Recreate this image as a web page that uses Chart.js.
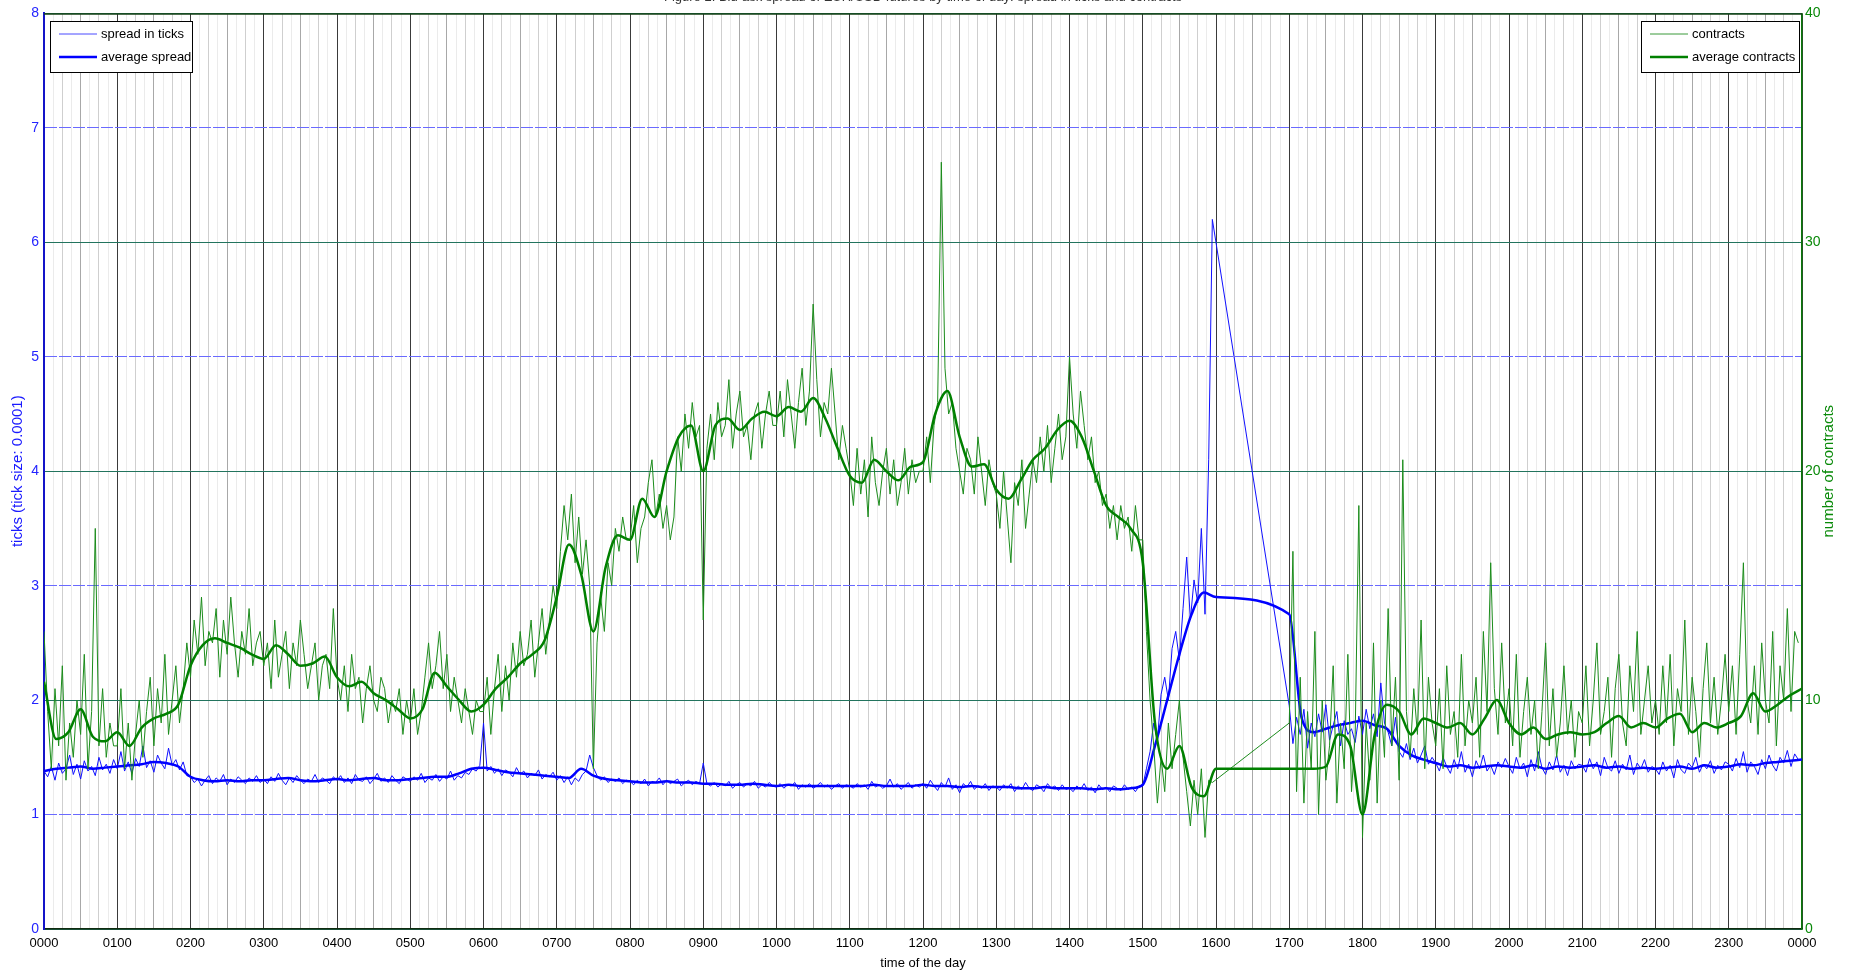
<!DOCTYPE html>
<html><head><meta charset="utf-8">
<script src="https://cdn.jsdelivr.net/npm/chart.js@4.4.1/dist/chart.umd.min.js"></script>
<style>html,body{margin:0;padding:0;background:#fff;overflow:hidden}canvas{display:block}</style>
</head><body>
<canvas id="c" width="1851" height="975"></canvas>
<script>
// ---------------- data ----------------
const titleText = "Figure 2: Bid-ask spread of EUR/USD futures by time of day: spread in ticks and contracts";
const hourTickLabels = ["0000","0100","0200","0300","0400","0500","0600","0700","0800","0900","1000","1100","1200",
  "1300","1400","1500","1600","1700","1800","1900","2000","2100","2200","2300","0000"];
const leftTicks = [0,1,2,3,4,5,6,7,8];
const rightTicks = [0,10,20,30,40];
// hours that hold raw samples (3-minute samples, 20 per hour); no data between 1600 and 1700
const rawHours = [0,1,2,3,4,5,6,7,8,9,10,11,12,13,14,15,17,18,19,20,21,22,23];
const spreadRaw = [
 1.38,1.33,1.42,1.30,1.45,1.36,1.40,1.52,1.35,1.44,1.31,1.47,1.38,1.42,1.34,1.50,1.39,1.44,1.36,1.48,
 1.40,1.55,1.38,1.46,1.36,1.49,1.42,1.60,1.41,1.47,1.37,1.52,1.45,1.40,1.58,1.43,1.48,1.39,1.46,1.34,
 1.33,1.28,1.31,1.25,1.30,1.34,1.27,1.32,1.29,1.35,1.26,1.31,1.28,1.33,1.30,1.27,1.32,1.29,1.34,1.28,
 1.31,1.27,1.33,1.29,1.36,1.30,1.26,1.32,1.28,1.34,1.30,1.27,1.31,1.29,1.35,1.28,1.32,1.30,1.27,1.33,
 1.30,1.34,1.28,1.32,1.27,1.35,1.30,1.29,1.33,1.27,1.31,1.36,1.29,1.32,1.28,1.34,1.30,1.27,1.33,1.31,
 1.29,1.33,1.30,1.36,1.28,1.32,1.30,1.35,1.29,1.33,1.31,1.38,1.30,1.34,1.32,1.37,1.35,1.40,1.38,1.43,
 1.80,1.38,1.42,1.36,1.40,1.34,1.39,1.37,1.33,1.41,1.35,1.38,1.32,1.36,1.34,1.39,1.31,1.35,1.33,1.37,
 1.30,1.34,1.28,1.33,1.26,1.32,1.29,1.35,1.38,1.52,1.41,1.34,1.30,1.33,1.28,1.31,1.29,1.32,1.27,1.30,
 1.29,1.26,1.30,1.27,1.31,1.25,1.29,1.28,1.32,1.26,1.30,1.27,1.29,1.31,1.25,1.28,1.30,1.26,1.29,1.27,
 1.45,1.27,1.25,1.28,1.24,1.27,1.25,1.29,1.23,1.26,1.28,1.24,1.27,1.25,1.29,1.23,1.26,1.24,1.28,1.25,
 1.24,1.27,1.23,1.26,1.25,1.28,1.22,1.26,1.24,1.27,1.23,1.25,1.28,1.24,1.26,1.22,1.25,1.27,1.23,1.26,
 1.25,1.23,1.27,1.24,1.26,1.22,1.29,1.24,1.26,1.23,1.25,1.31,1.24,1.27,1.22,1.25,1.28,1.23,1.26,1.24,
 1.27,1.23,1.30,1.25,1.21,1.28,1.24,1.32,1.22,1.26,1.19,1.27,1.24,1.29,1.22,1.25,1.23,1.27,1.21,1.25,
 1.24,1.21,1.26,1.23,1.27,1.20,1.25,1.22,1.28,1.23,1.21,1.26,1.24,1.20,1.27,1.23,1.25,1.21,1.26,1.22,
 1.23,1.20,1.25,1.22,1.27,1.21,1.24,1.19,1.26,1.22,1.24,1.20,1.25,1.23,1.21,1.26,1.22,1.24,1.20,1.25,
 1.25,1.40,1.55,1.80,1.65,2.05,2.20,2.00,2.45,2.60,2.35,2.80,3.25,2.70,3.05,2.85,3.50,2.75,4.10,6.20,
 1.95,1.62,1.85,1.70,1.92,1.58,1.80,1.68,1.88,1.72,1.96,1.65,1.78,1.90,1.60,1.82,1.70,1.75,1.63,1.86,
 1.70,1.92,1.75,1.88,1.68,2.15,1.80,1.72,1.60,1.85,1.55,1.50,1.62,1.48,1.58,1.45,1.52,1.60,1.44,1.50,
 1.45,1.38,1.50,1.42,1.36,1.48,1.40,1.55,1.37,1.44,1.33,1.47,1.40,1.52,1.38,1.43,1.35,1.46,1.41,1.49,
 1.42,1.36,1.50,1.40,1.45,1.33,1.48,1.38,1.55,1.41,1.35,1.46,1.39,1.52,1.37,1.43,1.34,1.47,1.40,1.44,
 1.43,1.37,1.49,1.40,1.46,1.34,1.50,1.41,1.38,1.47,1.36,1.44,1.39,1.52,1.35,1.45,1.40,1.48,1.37,1.42,
 1.40,1.35,1.46,1.38,1.43,1.32,1.48,1.39,1.36,1.45,1.41,1.50,1.37,1.44,1.40,1.47,1.36,1.43,1.39,1.46,
 1.44,1.38,1.49,1.41,1.55,1.37,1.46,1.42,1.35,1.48,1.40,1.52,1.43,1.38,1.50,1.45,1.56,1.42,1.53,1.48
];
const contractsRaw = [
 13.0,9.5,7.0,10.5,8.0,11.5,6.5,9.0,7.5,10.0,8.5,12.0,7.0,9.5,17.5,8.0,10.5,7.5,9.0,8.0,
 8.0,10.5,7.0,9.0,6.5,8.5,10.0,7.5,9.5,11.0,8.0,10.5,9.0,12.0,8.5,10.0,11.5,9.0,10.5,12.5,
 11.0,13.5,12.0,14.5,11.5,13.0,12.5,14.0,11.0,13.5,12.0,14.5,12.5,11.0,13.0,12.0,14.0,11.5,12.5,13.0,
 11.5,12.5,10.5,13.5,11.0,12.0,13.0,10.5,12.5,11.5,13.5,12.0,10.5,11.5,12.5,10.0,11.5,12.0,10.5,14.0,
 11.0,10.0,11.5,9.5,12.0,10.5,11.0,9.0,10.5,11.5,10.0,9.5,11.0,10.5,9.0,10.0,9.5,10.5,8.5,10.0,
 9.0,10.5,8.5,9.5,11.0,12.5,10.5,11.5,13.0,10.5,12.0,9.5,11.0,10.0,9.0,10.5,9.5,8.5,10.0,9.5,
 9.5,11.0,8.5,10.5,12.0,9.5,11.5,10.0,12.5,11.0,13.0,11.5,12.0,13.5,11.0,12.5,14.0,12.0,13.5,15.0,
 14.0,16.5,18.5,17.0,19.0,16.0,18.0,15.5,17.0,15.0,7.0,12.5,14.5,13.0,16.0,15.0,17.5,16.5,18.0,17.0,
 17.0,18.5,16.0,17.5,18.0,19.5,20.5,18.0,19.0,17.5,18.5,17.0,18.0,21.5,20.0,22.5,21.0,23.0,21.5,22.0,
 13.5,21.0,22.5,20.5,23.0,21.5,22.0,24.0,21.0,22.5,23.5,21.5,22.0,20.5,22.5,23.0,21.0,22.5,23.5,22.0,
 22.0,23.5,21.5,24.0,22.5,21.0,23.0,24.5,22.0,23.5,27.3,24.0,21.5,23.0,22.5,24.5,22.5,20.5,22.0,21.0,
 20.0,18.5,21.0,19.0,20.5,18.0,21.5,19.5,18.5,20.0,21.0,19.0,20.5,18.5,19.5,21.0,19.0,20.5,19.5,20.0,
 20.0,21.5,19.5,22.0,23.0,33.5,24.5,22.5,23.0,21.0,20.0,19.0,21.0,20.5,19.0,21.5,20.0,18.5,20.5,19.5,
 19.0,17.5,20.0,18.0,16.0,19.5,18.5,20.5,17.5,19.0,20.5,19.5,21.5,20.0,22.0,19.5,21.0,22.5,20.5,21.5,
 25.0,22.5,21.0,23.5,22.0,20.5,21.5,19.5,20.0,18.5,19.0,17.5,18.5,17.0,18.5,17.5,18.0,16.5,18.5,17.0,
 17.0,13.0,10.0,8.0,5.5,7.5,6.0,9.0,7.0,8.5,10.0,7.5,6.0,4.5,6.5,5.0,7.0,4.0,6.5,6.4,
 9.0,16.5,6.0,11.0,5.5,9.5,7.0,13.0,5.0,10.0,6.5,8.0,11.5,5.5,9.0,7.0,12.0,6.0,8.5,18.5,
 4.0,9.0,6.5,12.5,5.5,10.0,7.5,14.0,8.0,11.0,6.5,20.5,9.5,7.5,10.5,8.5,13.5,7.0,11.0,9.0,
 8.0,10.5,7.0,11.5,8.5,9.5,7.5,12.0,8.0,10.0,9.0,11.0,7.5,13.0,9.5,16.0,10.5,8.5,12.5,9.0,
 10.5,8.0,12.0,7.5,9.5,11.0,8.5,10.0,7.0,9.5,12.5,8.0,10.5,7.5,9.0,11.5,8.5,10.0,7.5,9.5,
 9.0,11.5,8.0,10.0,12.5,8.5,9.5,11.0,7.5,10.5,12.0,9.0,8.0,11.5,9.5,13.0,8.5,10.0,11.5,9.0,
 10.0,8.5,11.5,9.0,12.0,8.0,10.5,9.5,13.5,8.5,11.0,9.5,7.5,10.5,12.5,9.0,11.0,8.5,10.0,12.0,
 9.5,11.5,8.5,12.0,16.0,10.0,9.0,11.5,8.5,12.5,10.0,9.0,13.0,8.0,11.5,10.0,14.0,9.5,13.0,12.5
];
// averages: 10-minute samples 0000..1600 and 1700..2400
const spreadAvg = [
 1.38,1.40,1.41,1.42,1.40,1.41,
 1.42,1.43,1.44,1.46,1.45,1.42,
 1.33,1.30,1.29,1.30,1.29,1.30,
 1.30,1.31,1.32,1.30,1.29,1.30,
 1.31,1.30,1.31,1.32,1.30,1.30,
 1.31,1.32,1.33,1.33,1.36,1.40,
 1.41,1.39,1.37,1.36,1.35,1.34,
 1.33,1.32,1.40,1.34,1.31,1.30,
 1.29,1.28,1.28,1.29,1.28,1.28,
 1.27,1.27,1.26,1.26,1.27,1.26,
 1.25,1.26,1.25,1.25,1.25,1.25,
 1.25,1.25,1.26,1.25,1.25,1.25,
 1.26,1.25,1.25,1.24,1.25,1.24,
 1.24,1.24,1.23,1.23,1.24,1.23,
 1.23,1.23,1.22,1.23,1.22,1.23,
 1.26,1.60,2.00,2.40,2.75,2.94,
 2.90,
 2.75,1.85,1.72,1.75,1.78,1.80,
 1.82,1.78,1.75,1.60,1.52,1.48,
 1.45,1.42,1.43,1.41,1.42,1.43,
 1.42,1.41,1.43,1.40,1.42,1.41,
 1.42,1.43,1.41,1.42,1.40,1.41,
 1.40,1.41,1.42,1.40,1.43,1.41,
 1.42,1.44,1.43,1.45,1.46,1.47,
 1.48
];
const contractsAvg = [
 10.8,8.3,8.6,9.6,8.4,8.2,
 8.6,8.0,8.8,9.2,9.4,9.8,
 11.5,12.4,12.7,12.5,12.3,12.0,
 11.8,12.4,12.0,11.5,11.6,11.9,
 11.0,10.6,10.8,10.3,10.0,9.6,
 9.2,9.6,11.2,10.6,10.0,9.5,
 9.8,10.5,11.0,11.6,12.0,12.6,
 14.5,16.8,15.5,13.0,15.8,17.2,
 17.0,18.8,18.0,20.0,21.5,22.0,
 20.0,22.0,22.3,21.8,22.3,22.6,
 22.4,22.8,22.6,23.2,22.3,21.0,
 19.8,19.5,20.5,20.0,19.6,20.2,
 20.4,22.5,23.5,21.5,20.2,20.3,
 19.2,18.8,19.6,20.5,21.0,21.8,
 22.2,21.5,20.0,18.5,18.0,17.5,
 16.0,9.0,7.0,8.0,6.2,5.8,
 7.0,
 7.0,7.0,7.0,7.1,8.5,8.0,
 5.0,8.5,9.8,9.5,8.5,9.2,
 9.0,8.8,9.0,8.5,9.2,10.0,
 9.0,8.5,8.8,8.3,8.5,8.6,
 8.5,8.6,9.0,9.3,8.8,9.0,
 8.8,9.2,9.4,8.6,9.0,8.8,
 9.0,9.3,10.3,9.5,9.8,10.2,
 10.5
];

// ---------------- build points ----------------
const rawTimes = [];
rawHours.forEach(h => { for (let i = 0; i < 20; i++) rawTimes.push(h * 60 + i * 3); });
const avgTimes = [];
for (let t = 0; t <= 960; t += 10) avgTimes.push(t);
for (let t = 1020; t <= 1440; t += 10) avgTimes.push(t);
const pts = (times, vals) => vals.map((v, i) => ({x: times[i], y: v}));

const BLUE = '#0000ff', GREEN = '#008000';
const FONT = '"Liberation Sans", Arial, Helvetica, sans-serif';

const decor = {
  id: 'decor',
  afterDraw(chart) {
    const ctx = chart.ctx, a = chart.chartArea;
    ctx.save();
    // top box edge
    ctx.strokeStyle = '#133f13'; ctx.lineWidth = 1.5;
    ctx.beginPath(); ctx.moveTo(a.left, a.top + 0.5); ctx.lineTo(a.right, a.top + 0.5); ctx.stroke();
    // title (mostly cut off at top)
    ctx.font = '13px ' + FONT; ctx.fillStyle = '#333'; ctx.textAlign = 'center'; ctx.textBaseline = 'alphabetic';
    ctx.fillText(titleText, (a.left + a.right) / 2, 1);
    // x title
    ctx.textBaseline = 'middle';
    ctx.fillStyle = '#000';
    ctx.fillText('time of the day', (a.left + a.right) / 2, 963);
    // y titles
    const cy = (a.top + a.bottom) / 2;
    ctx.font = '15px ' + FONT;
    ctx.save(); ctx.translate(18, cy); ctx.rotate(-Math.PI / 2); ctx.fillStyle = '#1a1aff';
    ctx.fillText('ticks (tick size: 0.0001)', 0, 0); ctx.restore();
    ctx.save(); ctx.translate(1829, cy); ctx.rotate(-Math.PI / 2); ctx.fillStyle = '#0a8a0a';
    ctx.fillText('number of contracts', 0, 0); ctx.restore();
    // legends
    const legend = (x, y, w, h, items) => {
      ctx.fillStyle = '#fff'; ctx.fillRect(x, y, w, h);
      ctx.strokeStyle = '#000'; ctx.lineWidth = 1; ctx.strokeRect(x + 0.5, y + 0.5, w, h);
      ctx.font = '13px ' + FONT; ctx.textAlign = 'left'; ctx.textBaseline = 'middle';
      items.forEach((it, i) => {
        const ly = y + 13 + i * 23;
        ctx.strokeStyle = it.c; ctx.lineWidth = it.w;
        ctx.beginPath(); ctx.moveTo(x + 9, ly); ctx.lineTo(x + 47, ly); ctx.stroke();
        ctx.fillStyle = '#000'; ctx.fillText(it.t, x + 51, ly);
      });
    };
    legend(50, 21, 142, 51, [{t: 'spread in ticks', c: '#4a4aff', w: 1}, {t: 'average spread', c: BLUE, w: 2.5}]);
    legend(1641, 21, 158, 51, [{t: 'contracts', c: '#3a9a3a', w: 1}, {t: 'average contracts', c: GREEN, w: 2.5}]);
    ctx.restore();
  }
};

new Chart(document.getElementById('c'), {
  type: 'line',
  data: {
    datasets: [
      {label: 'average contracts', data: pts(avgTimes, contractsAvg), yAxisID: 'y1', borderColor: GREEN, borderWidth: 2.5,
        cubicInterpolationMode: 'monotone', pointRadius: 0, order: 0},
      {label: 'contracts', data: pts(rawTimes, contractsRaw), yAxisID: 'y1', borderColor: '#1c8c1c', borderWidth: 1,
        tension: 0, pointRadius: 0, order: 1},
      {label: 'average spread', data: pts(avgTimes, spreadAvg), yAxisID: 'y', borderColor: BLUE, borderWidth: 2.5,
        cubicInterpolationMode: 'monotone', pointRadius: 0, order: 2},
      {label: 'spread in ticks', data: pts(rawTimes, spreadRaw), yAxisID: 'y', borderColor: '#1010ff', borderWidth: 1,
        tension: 0, pointRadius: 0, order: 3}
    ]
  },
  options: {
    responsive: false, animation: false, devicePixelRatio: 1, events: [],
    layout: {padding: {top: 12, left: 0, right: 0, bottom: 0}},
    plugins: {legend: {display: false}, tooltip: {enabled: false}, title: {display: false}},
    scales: {
      x: {
        type: 'linear', min: 0, max: 1440,
        afterBuildTicks(s) { const t = []; for (let m = 0; m <= 1440; m += 7.5) t.push({value: m}); s.ticks = t; },
        afterFit(s) { s.height = 46; },
        ticks: {autoSkip: false, maxRotation: 0, padding: 7, color: '#000', font: {family: FONT, size: 13},
          callback: (v) => (v % 60 === 0 ? hourTickLabels[v / 60] : '')},
        grid: {drawTicks: false, lineWidth: 1,
          color: (c) => { const v = c.tick ? c.tick.value : 0;
            if (v % 60 === 0) return '#3a3a3a';
            if (v % 30 === 0) return '#a8a8a8';
            if (v % 15 === 0) return '#cfcfcf';
            return '#ebebeb'; }},
        border: {display: true, color: '#0f2a0f', width: 1.5}
      },
      y: {
        position: 'left', min: 0, max: 8,
        afterBuildTicks(s) { s.ticks = leftTicks.map(v => ({value: v})); },
        afterFit(s) { s.width = 44; },
        ticks: {padding: 5, color: '#2424ff', font: {family: FONT, size: 14}},
        grid: {drawTicks: false, color: '#6a6aff', lineWidth: 1},
        border: {display: true, color: '#1414c8', width: 2, dash: [12, 2]}
      },
      y1: {
        position: 'right', min: 0, max: 40,
        afterBuildTicks(s) { s.ticks = rightTicks.map(v => ({value: v})); },
        afterFit(s) { s.width = 49; },
        ticks: {padding: 3, color: '#0a8a0a', font: {family: FONT, size: 14}},
        grid: {drawTicks: false, color: '#22745e', lineWidth: 1},
        border: {display: true, color: '#0a7a0a', width: 1.5}
      }
    }
  },
  plugins: [decor]
});
</script>
</body></html>
